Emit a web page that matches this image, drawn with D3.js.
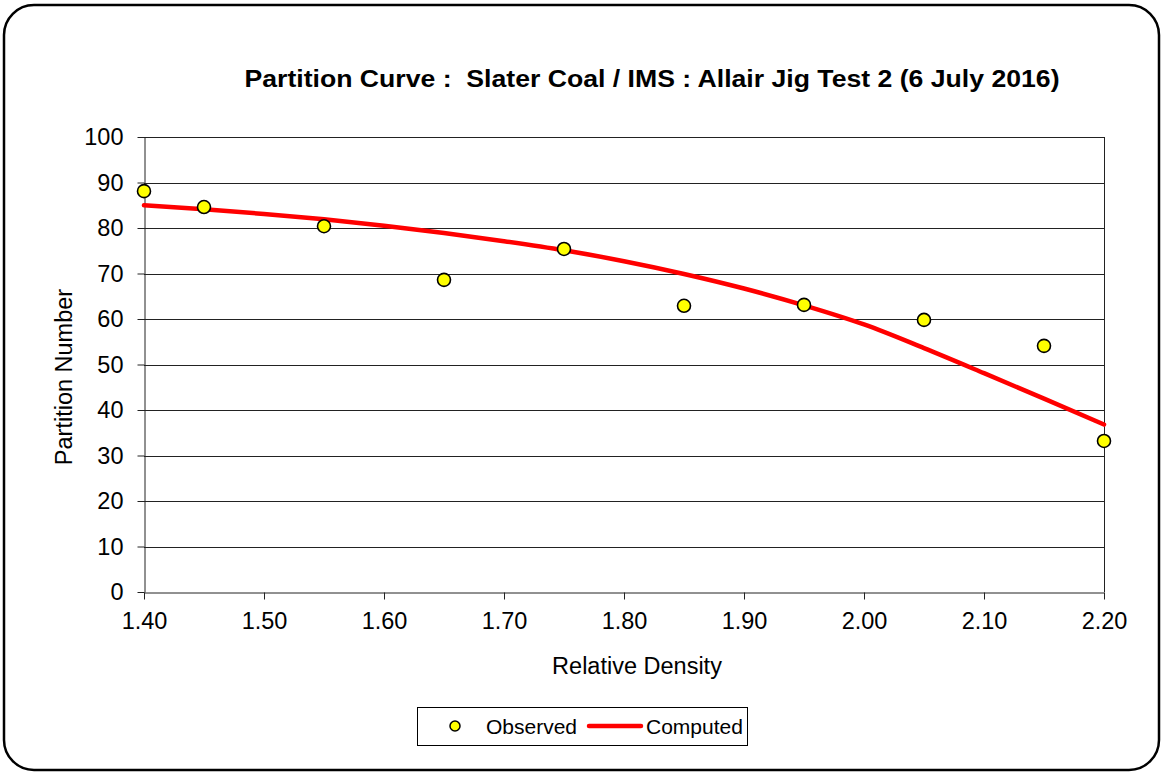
<!DOCTYPE html>
<html>
<head>
<meta charset="utf-8">
<script src="https://cdn.jsdelivr.net/npm/d3@7"></script>
<style>
  body { margin: 0; background: #fff; }
  text { font-family: Arial, "Liberation Sans", sans-serif; fill: #000; }
</style>
</head>
<body>
<svg id="chart" width="1163" height="775"></svg>
<script>
// observed partition numbers
var obsDensity = [1.40, 1.45, 1.55, 1.65, 1.75, 1.85, 1.95, 2.05, 2.15, 2.20];
var obsPartition = [88.1, 84.6, 80.4, 68.6, 75.4, 62.9, 63.1, 59.8, 54.1, 33.2];

// computed partition curve
var curveDensity = [1.40, 1.45, 1.50, 1.55, 1.60, 1.65, 1.70, 1.75, 1.80, 1.85, 1.90, 1.95, 2.00, 2.05, 2.10, 2.15, 2.20];
var curvePartition = [85.0, 84.1, 83.1, 81.9, 80.5, 78.9, 77.1, 75.1, 72.7, 69.9, 66.7, 63.0, 58.8, 53.6, 48.1, 42.5, 36.8];

var xTicks = [1.4, 1.5, 1.6, 1.7, 1.8, 1.9, 2.0, 2.1, 2.2];
var yTicks = [0, 10, 20, 30, 40, 50, 60, 70, 80, 90, 100];

var titleText = "Partition Curve :  Slater Coal / IMS : Allair Jig Test 2 (6 July 2016)";

var svg = d3.select("#chart");

var margin = {left: 144, right: 1104, top: 137, bottom: 592};

// outer frame
svg.append("rect")
    .attr("x", 4).attr("y", 5)
    .attr("width", 1155).attr("height", 765)
    .attr("rx", 30).attr("ry", 30)
    .attr("fill", "#fff")
    .attr("stroke", "#000")
    .attr("stroke-width", 2.5);

var x = d3.scaleLinear().domain([1.4, 2.2]).range([margin.left, margin.right]);
var y = d3.scaleLinear().domain([0, 100]).range([margin.bottom, margin.top]);

// gridlines
svg.append("g")
  .selectAll("line")
  .data(yTicks.filter(d => d > 0))
  .join("line")
    .attr("x1", margin.left).attr("x2", margin.right)
    .attr("y1", d => Math.round(y(d)) + 0.5)
    .attr("y2", d => Math.round(y(d)) + 0.5)
    .attr("stroke", "#222")
    .attr("stroke-width", 1);

// right border of plot
svg.append("line")
    .attr("x1", margin.right + 0.5).attr("x2", margin.right + 0.5)
    .attr("y1", margin.top).attr("y2", margin.bottom)
    .attr("stroke", "#222");

// axes
var yAxis = svg.append("g")
    .attr("transform", "translate(" + (margin.left + 0.5) + ",0)")
    .call(d3.axisLeft(y).tickValues(yTicks).tickSize(7).tickSizeOuter(0).tickPadding(14).tickFormat(d3.format("d")));

var xAxis = svg.append("g")
    .attr("transform", "translate(0," + (margin.bottom + 0.5) + ")")
    .call(d3.axisBottom(x).tickValues(xTicks).tickSize(7).tickSizeOuter(0).tickPadding(13).tickFormat(d3.format(".2f")));

[xAxis, yAxis].forEach(function(a) {
  a.select(".domain").attr("stroke", "#222");
  a.selectAll(".tick line").attr("stroke", "#222");
  a.selectAll("text")
    .attr("font-family", "Arial, 'Liberation Sans', sans-serif")
    .attr("font-size", 23.5)
    .attr("fill", "#000");
});

// computed curve
var line = d3.line()
    .x(d => x(d[0]))
    .y(d => y(d[1]))
    .curve(d3.curveMonotoneX);

svg.append("path")
    .datum(d3.zip(curveDensity, curvePartition))
    .attr("fill", "none")
    .attr("stroke", "#ff0000")
    .attr("stroke-width", 4.5)
    .attr("stroke-linecap", "round")
    .attr("d", line);

// observed points
svg.append("g")
  .selectAll("circle")
  .data(d3.zip(obsDensity, obsPartition))
  .join("circle")
    .attr("cx", d => x(d[0]))
    .attr("cy", d => y(d[1]))
    .attr("r", 6.5)
    .attr("fill", "#ffff00")
    .attr("stroke", "#000")
    .attr("stroke-width", 1.6);

// title
svg.append("text")
    .attr("x", 652).attr("y", 87)
    .attr("text-anchor", "middle")
    .attr("font-size", 23)
    .attr("font-weight", "bold")
    .attr("textLength", 815)
    .attr("lengthAdjust", "spacingAndGlyphs")
    .style("white-space", "pre")
    .text(titleText);

// axis titles
svg.append("text")
    .attr("x", (margin.left + margin.right) / 2 + 13)
    .attr("y", 674)
    .attr("text-anchor", "middle")
    .attr("font-size", 23.5)
    .text("Relative Density");

svg.append("text")
    .attr("transform", "translate(72,377) rotate(-90)")
    .attr("text-anchor", "middle")
    .attr("font-size", 23.5)
    .text("Partition Number");

// legend
var legend = svg.append("g");
legend.append("rect")
    .attr("x", 417.5).attr("y", 707.5)
    .attr("width", 330).attr("height", 38)
    .attr("fill", "#fff")
    .attr("stroke", "#000");
legend.append("circle")
    .attr("cx", 455).attr("cy", 726)
    .attr("r", 5)
    .attr("fill", "#ffff00")
    .attr("stroke", "#000")
    .attr("stroke-width", 1.5);
legend.append("text")
    .attr("x", 486).attr("y", 734)
    .attr("font-size", 21)
    .text("Observed");
legend.append("line")
    .attr("x1", 589).attr("x2", 641)
    .attr("y1", 726).attr("y2", 726)
    .attr("stroke", "#ff0000")
    .attr("stroke-width", 4.5)
    .attr("stroke-linecap", "round");
legend.append("text")
    .attr("x", 646).attr("y", 734)
    .attr("font-size", 21)
    .text("Computed");
</script>
</body>
</html>
